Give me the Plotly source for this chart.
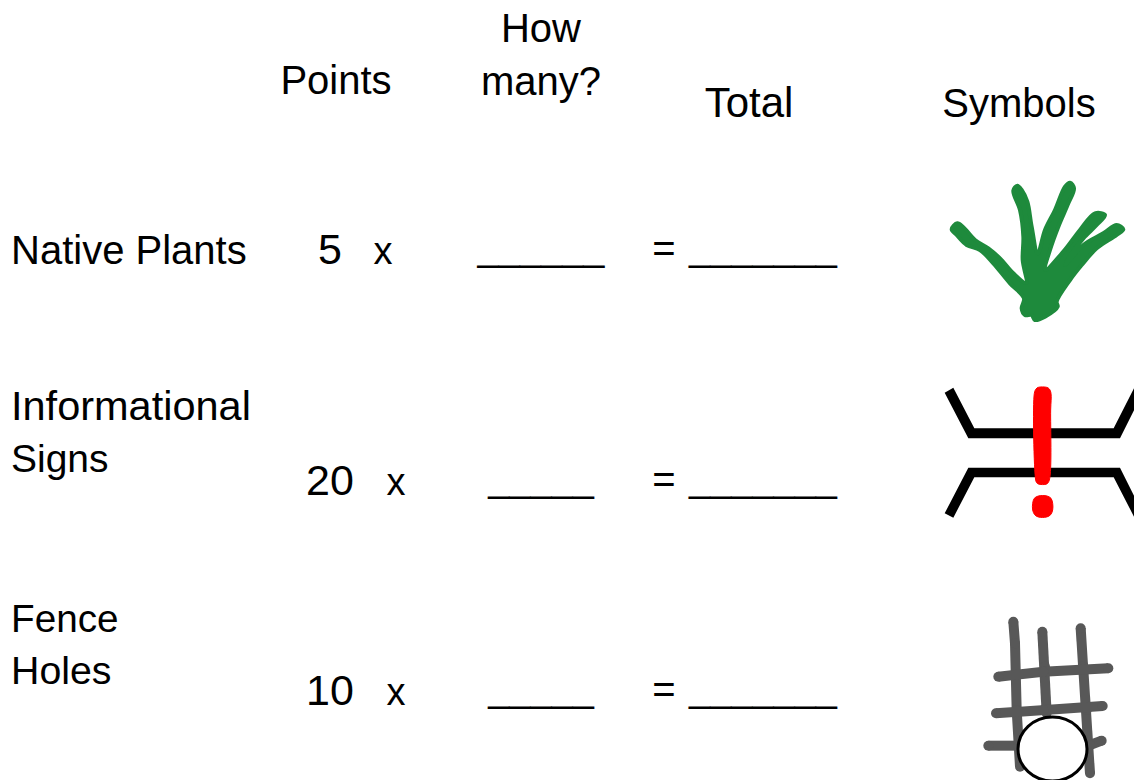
#!/usr/bin/env python
import plotly.graph_objects as go

FONT = "Liberation Sans"
NUM_SIZE = 43
X_SIZE = 38
EQ_SIZE = 40
BLANK_SIZE = 38

# worksheet text: (label, x, y) in page pixels
header_labels = ["How", "many?", "Points", "Total", "Symbols"]
header_x = [541, 541, 336, 749, 1019]
header_y = [32, 85, 84, 106, 107]
header_sizes = [40, 40, 40, 42, 40]

row_labels = ["Native Plants", "Informational", "Signs", "Fence", "Holes"]
row_x = [11, 11, 11, 11, 11]
row_y = [254, 410, 462, 622, 674]
row_sizes = [40, 41.5, 39, 38.7, 39.3]

points = ["5", "20", "10"]
points_x = [330, 330, 330]
points_y = [253, 484, 694]

times_x = [383, 396, 396]
times_y = [254, 485, 695]

blanks = ["______", "_____", "_____"]
blanks_x = [541, 541, 541]
blanks_y = [250, 481, 691]

equals_y = [252, 483, 693]
equals_x = [664, 664, 664]
totals = ["_______", "_______", "_______"]
totals_x = [763, 763, 763]
totals_y = [250, 481, 691]

plant_x = [65, 82, 100, 135, 175, 210, 250, 288, 278, 280, 270, 250, 262, 275, 292, 305, 323,
           345, 375, 405, 420, 432, 415, 385, 360, 345, 400, 450, 495, 525, 500, 460, 425, 405,
           460, 520, 560, 580, 560, 500, 455, 420, 380, 383, 345, 315, 305, 285, 275, 282, 240,
           190, 150, 110, 80, 65]
plant_y = [178, 160, 172, 210, 235, 265, 310, 338, 270, 200, 120, 62, 47, 60, 95, 170, 250,
           180, 120, 50, 38, 55, 100, 170, 240, 300, 245, 180, 130, 135, 165, 205, 250, 285,
           225, 190, 165, 178, 195, 235, 285, 330, 395, 410, 440, 450, 435, 435, 415, 385, 340,
           280, 240, 225, 195, 178]

road_top_x = [44, 70, 133, 551, 612, 612, 570, 115, 44]
road_top_y = [68, 53, 175, 175, 55, 121, 205, 205, 68]
road_bottom_x = [44, 70, 133, 551, 612, 612, 570, 115, 44]
road_bottom_y = [430, 443, 322, 322, 440, 377, 293, 293, 430]

bang_x = [313, 318, 325, 350, 358, 363, 362, 358, 350, 325, 320, 317, 313]
bang_y = [70, 57, 52, 52, 57, 70, 120, 330, 342, 342, 338, 330, 70]
dot_x = [308, 313, 325, 351, 363, 368, 368, 362, 350, 325, 314, 308, 308]
dot_y = [400, 385, 378, 378, 385, 400, 420, 434, 441, 441, 434, 420, 400]

fence_lines = [
    ([160, 165, 170, 180], [35, 100, 300, 470]),
    ([247, 255, 260], [65, 170, 310]),
    ([362, 368, 380, 390], [55, 170, 300, 490]),
    ([115, 250, 445], [200, 185, 175]),
    ([108, 250, 428], [310, 300, 288]),
    ([85, 175], [407, 407]),
    ([390, 425], [405, 392]),
]


def crop(xs, ys, x0, y0):
    return [x0 + v / 3 for v in xs], [y0 + v / 3 for v in ys]


def add_text(fig, labels, xs, ys, pos="middle center", size=EQ_SIZE):
    fig.add_trace(go.Scatter(x=xs, y=ys, text=labels, mode="text", textposition=pos,
                             textfont=dict(family=FONT, size=size, color="#000000"),
                             hoverinfo="skip"))


def add_blob(fig, xs, ys, x0, y0, color, width):
    bx, by = crop(xs, ys, x0, y0)
    fig.add_trace(go.Scatter(x=bx, y=by, mode="lines", fill="toself", fillcolor=color,
                             line=dict(color=color, width=width, shape="spline"),
                             hoverinfo="skip"))


fig = go.Figure()

add_text(fig, header_labels, header_x, header_y, size=header_sizes)
add_text(fig, row_labels, row_x, row_y, "middle right", size=row_sizes)
add_text(fig, points, points_x, points_y, size=NUM_SIZE)
add_text(fig, ["x"] * 3, times_x, times_y, size=X_SIZE)
add_text(fig, blanks, blanks_x, blanks_y, size=BLANK_SIZE)
add_text(fig, ["="] * 3, equals_x, equals_y)
add_text(fig, totals, totals_x, totals_y, size=BLANK_SIZE)

# plant
add_blob(fig, plant_x, plant_y, 930, 170, "#1e8a3c", 4)

# sign
for xs, ys in [(road_top_x, road_top_y), (road_bottom_x, road_bottom_y)]:
    sx, sy = crop(xs, ys, 930, 370)
    fig.add_trace(go.Scatter(x=sx, y=sy, mode="lines", fill="toself", fillcolor="#000000",
                             line=dict(color="#000000", width=0), hoverinfo="skip"))
add_blob(fig, bang_x, bang_y, 930, 370, "#ff0000", 1)
add_blob(fig, dot_x, dot_y, 930, 370, "#ff0000", 1)

# fence
for xs, ys in fence_lines:
    fx, fy = crop(xs, ys, 960, 610)
    fig.add_trace(go.Scatter(x=fx, y=fy, mode="lines+markers",
                             line=dict(color="#585858", width=10),
                             marker=dict(color="#585858", size=10),
                             hoverinfo="skip"))

# hole in the fence
fig.add_shape(type="circle", x0=1018, x1=1087, y0=717, y1=781, fillcolor="#ffffff",
              line=dict(color="#000000", width=3), layer="above")

fig.update_layout(
    width=1134, height=780,
    margin=dict(l=0, r=0, t=0, b=0),
    showlegend=False,
    paper_bgcolor="#ffffff", plot_bgcolor="#ffffff",
    xaxis=dict(range=[0, 1134], visible=False, fixedrange=True),
    yaxis=dict(range=[780, 0], visible=False, fixedrange=True),
)

# the page's default body margin would push the figure off the 1134x780 window
fig.write_html("out.html", config=dict(displayModeBar=False),
               post_script="document.body.style.margin = '0';")
